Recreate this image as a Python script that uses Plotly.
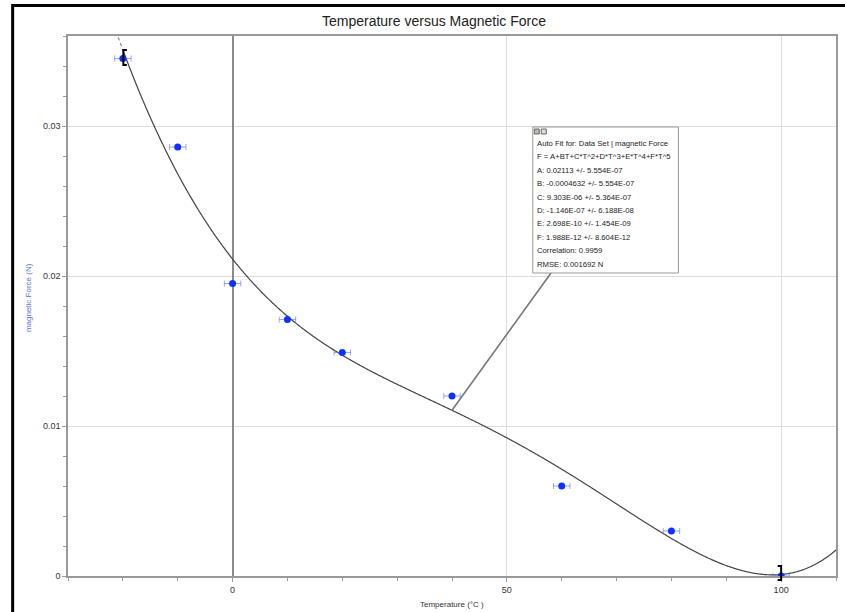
import numpy as np
import plotly.graph_objects as go

# Data
temperature = [-20, -10, 0, 10, 20, 40, 60, 80, 100]
magnetic_force = [0.0345, 0.0286, 0.0195, 0.0171, 0.0149, 0.0120, 0.0060, 0.0030, 0.0000]
temp_error = [1.5] * len(temperature)

# Fit coefficients shown in the fit box (A..F)
coef_names = ["A", "B", "C", "D", "E", "F"]
coef_values = [0.02113, -0.0004632, 9.303e-06, -1.146e-07, 2.698e-10, 1.988e-12]
coef_errors = ["5.554E-07", "5.554E-07", "5.364E-07", "6.188E-08", "1.454E-09", "8.604E-12"]
coef_labels = ["0.02113", "-0.0004632", "9.303E-06", "-1.146E-07", "2.698E-10", "1.988E-12"]
correlation = "0.9959"
rmse = "0.001692 N"
fit_range = [-20, 100]

def fit(t):
    t = np.asarray(t, dtype=float)
    return sum(c * t ** i for i, c in enumerate(coef_values))

W, H = 845, 612
L, R, T, B = 68, 838, 36, 576

def px(x):
    return (x - L) / (R - L)

def py(y):
    return (B - y) / (B - T)

fig = go.Figure()

# dotted extrapolation left of fit range
t_dot = np.linspace(-21.2, -20, 20)
fig.add_trace(go.Scatter(x=t_dot, y=fit(t_dot), mode="lines",
                         line=dict(color="#666", width=1, dash="dot"),
                         hoverinfo="skip", showlegend=False))
t_solid = np.linspace(-20, 110, 600)
fig.add_trace(go.Scatter(x=t_solid, y=fit(t_solid), mode="lines",
                         line=dict(color="#444", width=1.2, shape="spline"),
                         hoverinfo="skip", showlegend=False))

fig.add_trace(go.Scatter(x=temperature, y=magnetic_force, mode="markers",
                         marker=dict(color="#1030ff", size=7),
                         error_x=dict(type="data", array=temp_error, visible=True,
                                      color="rgba(80,110,255,0.6)", thickness=1, width=3),
                         showlegend=False))

shapes = []
# leader line from fit curve to box
shapes.append(dict(type="line", xref="x", yref="y", x0=40, y0=float(fit(40)),
                   x1=(553 - 233) / 5.5, y1=(576 - 272) / 15000.0,
                   line=dict(color="#777", width=1.6), layer="above"))
# fit box
shapes.append(dict(type="rect", xref="paper", yref="paper",
                   x0=px(534), x1=px(680), y0=py(273), y1=py(127),
                   line=dict(color="#999", width=1), fillcolor="white", layer="above"))
# small icons in box
shapes.append(dict(type="rect", xref="paper", yref="paper",
                   x0=px(535.5), x1=px(540.5), y0=py(134), y1=py(129),
                   line=dict(color="#666", width=1), fillcolor="#bbb", layer="above"))
shapes.append(dict(type="rect", xref="paper", yref="paper",
                   x0=px(542.5), x1=px(547.5), y0=py(134), y1=py(129),
                   line=dict(color="#666", width=1), fillcolor="#ddd", layer="above"))
# fit-range brackets
def bracket(xa, xb, ya, yb):
    return dict(type="path", xref="paper", yref="paper",
                path=f"M {px(xb)},{py(ya)} L {px(xa)},{py(ya)} L {px(xa)},{py(yb)} L {px(xb)},{py(yb)}",
                line=dict(color="black", width=2), layer="above")
shapes.append(bracket(123.5, 127, 50, 65))
shapes.append(bracket(783, 779.5, 566, 580))
# outer black frame
shapes.append(dict(type="rect", xref="paper", yref="paper",
                   x0=px(12.5), x1=px(900), y0=py(700), y1=py(5.5),
                   line=dict(color="black", width=3), layer="above"))

annotations = []
box_lines = ["Auto Fit for: Data Set | magnetic Force",
             "F = A+BT+C*T^2+D*T^3+E*T^4+F*T^5"]
for n, v, e in zip(coef_names, coef_labels, coef_errors):
    box_lines.append(f"{n}: {v} +/- {e}")
box_lines.append(f"Correlation: {correlation}")
box_lines.append(f"RMSE: {rmse}")
for i, txt in enumerate(box_lines):
    annotations.append(dict(text=txt, xref="paper", yref="paper",
                            x=px(536), y=py(143.5 + 13.4 * i), xanchor="left", yanchor="middle",
                            showarrow=False, font=dict(size=7.7, color="#222")))

# axis titles
annotations.append(dict(text="magnetic Force (N)", xref="paper", yref="paper",
                        x=px(28), y=py(298), textangle=-90, showarrow=False,
                        xanchor="center", yanchor="middle",
                        font=dict(size=8, color="#5a6ff0")))
annotations.append(dict(text="Temperature (°C )", xref="paper", yref="paper",
                        x=px(453), y=py(604), showarrow=False,
                        xanchor="center", yanchor="middle",
                        font=dict(size=8, color="#333")))

fig.update_layout(
    width=W, height=H,
    margin=dict(l=L, r=W - R, t=T, b=H - B),
    paper_bgcolor="white", plot_bgcolor="white",
    font=dict(family="Liberation Sans, Arial, sans-serif", color="#333"),
    title=dict(text="Temperature versus Magnetic Force", x=434 / W, xanchor="center",
               y=1 - 21 / H, yanchor="middle", font=dict(size=14, color="#222")),
    shapes=shapes, annotations=annotations,
    xaxis=dict(range=[-30, 110], dtick=50, tick0=0, showgrid=True, gridcolor="#dcdcdc",
               zeroline=True, zerolinecolor="#8a8a8a", zerolinewidth=2,
               showline=True, linecolor="#999", mirror=True, linewidth=1.5,
               ticks="outside", ticklen=4, tickcolor="#999",
               minor=dict(dtick=10, ticks="outside", ticklen=3, tickcolor="#999", showgrid=False),
               tickfont=dict(size=9, color="#333")),
    yaxis=dict(range=[0, 0.036], dtick=0.01, showgrid=True, gridcolor="#dcdcdc",
               zeroline=False, showline=True, linecolor="#999", mirror=True, linewidth=1.5,
               ticks="outside", ticklen=4, tickcolor="#999",
               minor=dict(dtick=0.002, ticks="outside", ticklen=3, tickcolor="#999", showgrid=False),
               tickfont=dict(size=9, color="#333")),
)

fig.write_html("out.html", config={"displayModeBar": False},
               post_script="document.body.style.margin='0';document.body.style.overflow='hidden';")
